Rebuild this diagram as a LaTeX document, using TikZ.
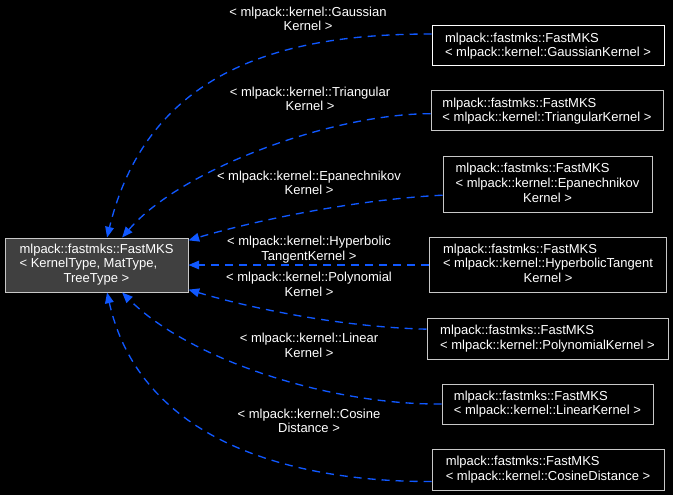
\documentclass[tikz,border=0pt]{standalone}
\usepackage{fontspec}
\setmainfont{Liberation Sans}
\usepackage{tikz}
\usetikzlibrary{arrows.meta}
\definecolor{edgeBlue}{RGB}{16, 88, 255}
\definecolor{baseGray}{RGB}{64, 64, 64}
\definecolor{boxLine}{RGB}{200, 200, 200}

\begin{document}
\begin{tikzpicture}[x=0.75pt,y=-0.75pt, every node/.style={inner sep=0pt}]
  \tikzset{
    dims/.style 2 args={minimum width=#1*0.75pt, minimum height=#2*0.75pt},
    txt/.style={font=\fontsize{9.75}{11}\selectfont, text=white},
    basebox/.style={txt, draw=boxLine, fill=baseGray, line width=0.75pt},
    cls/.style={txt, draw=boxLine, fill=black, line width=0.75pt, align=left},
    lbl/.style={txt, align=center},
    inh/.style={draw=edgeBlue, line width=1pt, dash pattern=on 6pt off 4.5pt,
      -{Triangle[length=8pt, width=6.5pt, fill=edgeBlue]}}
  }

  % black page, fixes the margins too
  \path[fill=black, use as bounding box] (0,0) rectangle (673,495);

  % base class
  \node[basebox, dims={183}{54}] (base) at (96.5,265)
    {\begin{tabular}{@{}l@{}}mlpack::fastmks::FastMKS\\ < KernelType, MatType,\\
     \multicolumn{1}{@{}c@{}}{TreeType >}\end{tabular}};

  % instantiations
  \node[cls, draw=white, dims={232}{40}] (gauss) at (548,46)
    {mlpack::fastmks::FastMKS\\ < mlpack::kernel::GaussianKernel >};
  \node[cls, dims={232}{40}] (tri) at (547,111)
    {mlpack::fastmks::FastMKS\\ < mlpack::kernel::TriangularKernel >};
  \node[cls, dims={209}{55}] (epan) at (547.5,184.5)
    {\begin{tabular}{@{}l@{}}mlpack::fastmks::FastMKS\\ < mlpack::kernel::Epanechnikov\\
     \multicolumn{1}{@{}c@{}}{Kernel >}\end{tabular}};
  \node[cls, dims={237}{55}] (hyper) at (548,265)
    {\begin{tabular}{@{}l@{}}mlpack::fastmks::FastMKS\\ < mlpack::kernel::HyperbolicTangent\\
     \multicolumn{1}{@{}c@{}}{Kernel >}\end{tabular}};
  \node[cls, dims={241}{41}] (poly) at (547.5,338.5)
    {mlpack::fastmks::FastMKS\\ < mlpack::kernel::PolynomialKernel >};
  \node[cls, dims={211}{40}] (linear) at (547.5,404)
    {mlpack::fastmks::FastMKS\\ < mlpack::kernel::LinearKernel >};
  \node[cls, dims={232}{41}] (cosine) at (548,469.5)
    {mlpack::fastmks::FastMKS\\ < mlpack::kernel::CosineDistance >};

  % edge labels
  \node[lbl] (lgauss) at (308,19) {< mlpack::kernel::Gaussian\\ Kernel >};
  \node[lbl] (ltri) at (310,99) {< mlpack::kernel::Triangular\\ Kernel >};
  \node[lbl] (lepan) at (309,183) {< mlpack::kernel::Epanechnikov\\ Kernel >};
  \node[lbl] (lhyper) at (309,249.5) {< mlpack::kernel::Hyperbolic\\ TangentKernel >};
  \node[lbl] (lpoly) at (309,284.5) {< mlpack::kernel::Polynomial\\ Kernel >};
  \node[lbl] (llinear) at (309,345.5) {< mlpack::kernel::Linear\\ Kernel >};
  \node[lbl] (lcosine) at (309,421) {< mlpack::kernel::Cosine\\ Distance >};

  % inheritance edges
  \draw[inh] ([yshift=9pt]gauss.west) .. controls (300,34) and (150,60) .. (base.69);
  \draw[inh] ([yshift=-2pt]tri.west) .. controls (330,114) and (180,170) .. (base.47);
  \draw[inh] ([yshift=-8pt]epan.west) .. controls (350,200) and (250,222) .. (base.15);
  \draw[inh] (hyper.west) -- (base.east);
  \draw[inh] ([yshift=7pt]poly.west) .. controls (340,327) and (250,308) .. (base.345);
  \draw[inh] (linear.west) .. controls (330,405) and (190,360) .. (base.313);
  \draw[inh] ([yshift=-9pt]cosine.west) .. controls (290,482) and (140,440) .. (base.291);

\end{tikzpicture}
\end{document}
